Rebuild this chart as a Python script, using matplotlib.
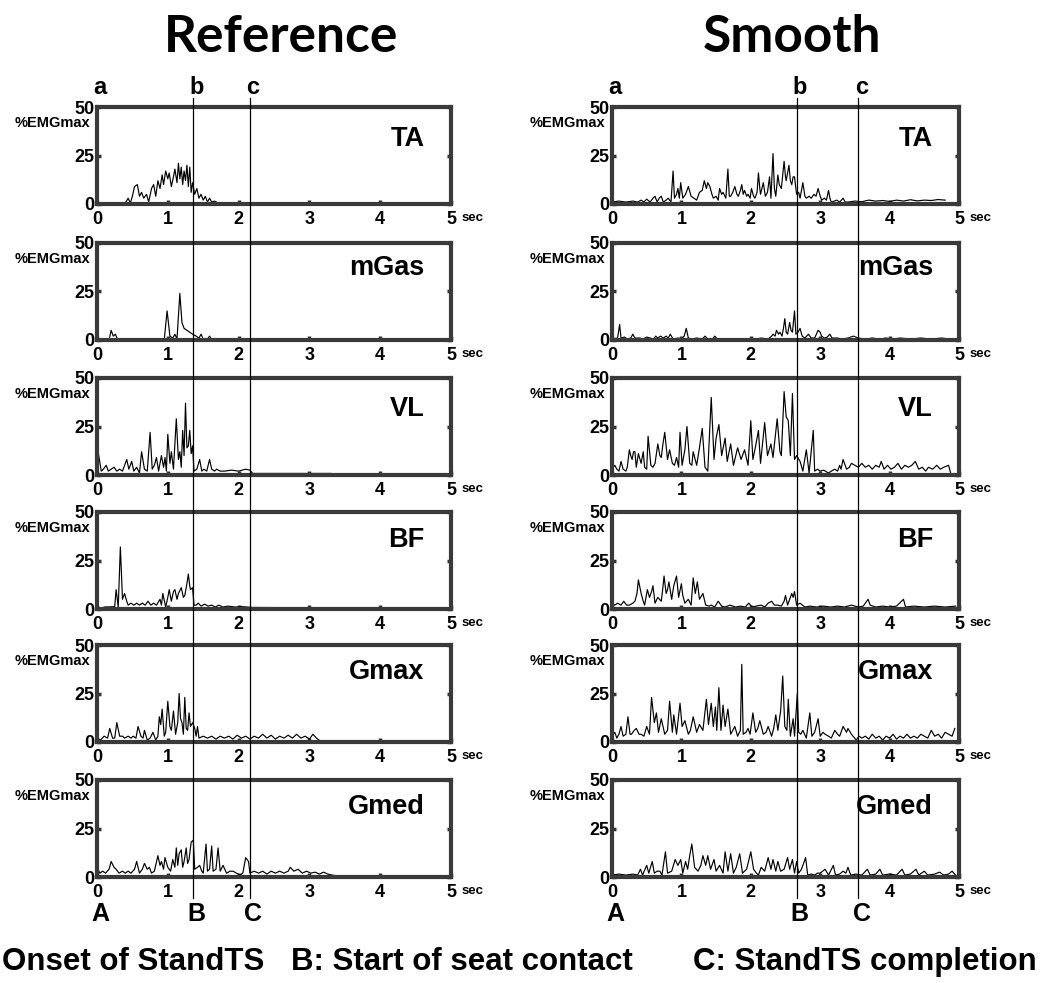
import matplotlib
matplotlib.use('Agg')
import matplotlib.pyplot as plt
from matplotlib.lines import Line2D

plt.rcParams['font.family'] = ['Liberation Sans', 'DejaVu Sans']
plt.rcParams['font.weight'] = 'bold'

# --- data: (time sec, %EMGmax) vertices ---
muscles = ['TA', 'mGas', 'VL', 'BF', 'Gmax', 'Gmed']

ref_ta = [(0,0.5),(0.40,0.5),(0.44,3),(0.47,0.5),(0.50,4),(0.53,9),(0.57,10),(0.60,4),(0.63,6),(0.66,3),(0.70,5),(0.73,1),(0.77,8),(0.80,10),(0.83,4),(0.86,12),(0.89,8),(0.92,15),(0.94,10),(0.97,17),(1.00,13),(1.02,16),(1.05,9),(1.08,14),(1.10,18),(1.13,11),(1.15,21),(1.17,13),(1.19,19),(1.21,10),(1.23,17),(1.25,12),(1.27,20),(1.29,9),(1.31,19),(1.33,6),(1.35,11),(1.38,5),(1.41,8),(1.44,3),(1.47,5),(1.50,2),(1.53,4),(1.56,1),(1.59,3),(1.62,1),(1.66,1.5),(1.70,0.7),(3.35,0.7)]
ref_mgas = [(0,0),(0.17,0),(0.20,5),(0.23,2),(0.26,3),(0.29,0.3),(0.95,0.3),(0.99,15),(1.03,2),(1.07,1),(1.10,3),(1.13,0.5),(1.17,24),(1.20,9),(1.23,6),(1.27,5),(1.31,4),(1.35,3),(1.40,2),(1.44,1),(1.47,3),(1.50,0.5),(1.56,0.5),(1.59,2),(1.62,0.3),(1.75,0.3)]
ref_vl = [(0,12),(0.02,11),(0.06,2),(0.09,3),(0.13,5),(0.16,2),(0.20,3),(0.24,4),(0.28,2),(0.32,3),(0.36,2),(0.39,5),(0.42,8),(0.45,3),(0.49,7),(0.52,2),(0.56,4),(0.60,1),(0.63,12),(0.67,3),(0.71,2),(0.75,22),(0.78,3),(0.81,5),(0.84,9),(0.87,2),(0.91,10),(0.94,4),(0.96,9),(0.98,2),(1.00,21),(1.03,6),(1.05,12),(1.08,3),(1.12,29),(1.15,8),(1.17,12),(1.19,4),(1.21,23),(1.23,10),(1.25,37),(1.27,14),(1.29,15),(1.31,23),(1.33,11),(1.35,15),(1.37,2),(1.41,3),(1.45,8),(1.48,2),(1.51,3),(1.55,2),(1.59,8),(1.62,3),(1.66,2),(1.69,3),(1.74,2),(1.80,2),(1.90,2.5),(2.00,2),(2.10,3),(2.16,2.5),(2.20,0.8),(3.30,0.8)]
ref_bf = [(0.1,1),(0.25,1.2),(0.27,10),(0.30,1),(0.33,32),(0.36,5),(0.39,8),(0.42,4),(0.44,2),(0.48,3),(0.52,2),(0.56,3),(0.60,2),(0.64,3),(0.68,2),(0.72,4),(0.76,2),(0.80,3),(0.84,2),(0.89,5),(0.91,2),(0.93,8),(0.97,1),(1.00,6),(1.02,10),(1.05,4),(1.08,9),(1.10,10),(1.13,5),(1.15,8),(1.19,11),(1.22,6),(1.24,7),(1.27,13),(1.29,18),(1.31,12),(1.32,10),(1.35,11),(1.37,2),(1.40,2),(1.43,3),(1.47,1.5),(1.52,2.5),(1.57,1.5),(1.62,2),(1.67,1),(1.72,2),(1.78,1),(1.85,1.5),(1.95,1),(2.05,1.2),(2.20,0.8),(3.30,0.6)]
ref_gmax = [(0,2),(0.05,1),(0.10,3),(0.15,2),(0.18,7),(0.22,2),(0.25,2),(0.28,10),(0.32,3),(0.36,3),(0.39,2),(0.44,3),(0.48,2),(0.51,3),(0.55,2),(0.58,8),(0.62,3),(0.65,2),(0.67,6),(0.71,1),(0.75,2),(0.79,5),(0.83,1),(0.86,3),(0.88,13),(0.90,9),(0.92,17),(0.95,3),(0.97,5),(1.00,21),(1.03,8),(1.05,6),(1.08,16),(1.11,4),(1.14,10),(1.16,25),(1.18,12),(1.20,10),(1.22,4),(1.24,23),(1.26,7),(1.28,6),(1.30,15),(1.32,8),(1.35,10),(1.38,7),(1.40,3),(1.42,8),(1.44,2),(1.50,3),(1.56,2),(1.62,3),(1.68,1.5),(1.74,3),(1.80,2),(1.86,3),(1.92,1.5),(1.98,3.5),(2.04,2),(2.10,3),(2.16,1.5),(2.22,3),(2.28,2),(2.34,4),(2.40,2),(2.46,3.5),(2.52,1.5),(2.58,3),(2.64,2),(2.70,3.5),(2.76,2),(2.82,4),(2.88,2),(2.94,3),(3.00,1.5),(3.05,4),(3.10,2),(3.15,0.6),(3.40,0.5)]
ref_gmed = [(0,5),(0.04,2),(0.08,3),(0.12,2),(0.17,4),(0.20,8),(0.24,5),(0.27,4),(0.31,2),(0.36,3),(0.40,2),(0.44,3),(0.48,2),(0.53,4),(0.56,8),(0.60,2),(0.64,4),(0.67,7),(0.71,4),(0.74,5),(0.77,2),(0.81,3),(0.86,11),(0.89,6),(0.91,8),(0.94,4),(0.96,10),(1.00,5),(1.04,3),(1.07,9),(1.10,5),(1.12,15),(1.14,6),(1.16,12),(1.19,14),(1.21,5),(1.23,8),(1.26,15),(1.28,7),(1.30,9),(1.33,18),(1.36,19),(1.38,4),(1.42,5),(1.45,6),(1.48,3),(1.50,2),(1.54,17),(1.56,3),(1.59,4),(1.62,16),(1.64,3),(1.68,4),(1.71,15),(1.74,3),(1.78,6),(1.83,2),(1.88,3),(1.92,3),(1.97,2),(2.02,1),(2.06,2),(2.10,10),(2.14,8),(2.16,2),(2.22,3),(2.28,2),(2.34,3),(2.40,1.5),(2.46,3),(2.52,2),(2.58,3),(2.64,2),(2.70,3),(2.73,5),(2.78,3),(2.84,4),(2.90,2),(2.96,3),(3.02,2),(3.08,2.5),(3.14,1.5),(3.20,2.5),(3.26,1.5),(3.32,1),(3.40,0.5)]

smo_ta = [(0,1),(0.10,1.5),(0.20,1),(0.30,1.5),(0.37,1),(0.42,2),(0.46,1),(0.50,2.5),(0.55,1),(0.59,3),(0.62,4),(0.65,1),(0.68,3),(0.71,4),(0.74,1),(0.78,2),(0.81,3),(0.85,1),(0.88,17),(0.90,3),(0.93,5),(0.95,8),(0.97,3),(0.99,11),(1.02,3),(1.06,5),(1.10,9),(1.14,4),(1.18,3),(1.22,2),(1.26,6),(1.30,7),(1.33,12),(1.36,8),(1.38,11),(1.41,9),(1.44,5),(1.46,3),(1.50,4),(1.53,2),(1.55,8),(1.58,5),(1.60,6),(1.64,3),(1.67,18),(1.69,4),(1.71,4),(1.74,6),(1.77,9),(1.80,5),(1.82,4),(1.85,7),(1.87,10),(1.89,5),(1.91,7),(1.94,4),(1.96,5),(1.99,3),(2.01,8),(2.04,4),(2.06,3),(2.09,6),(2.11,16),(2.13,8),(2.14,5),(2.18,11),(2.21,4),(2.24,6),(2.27,14),(2.29,3),(2.32,26),(2.34,8),(2.36,4),(2.39,15),(2.41,10),(2.44,8),(2.48,22),(2.50,14),(2.51,12),(2.55,20),(2.57,12),(2.59,10),(2.61,14),(2.63,14),(2.66,5),(2.69,6),(2.71,3),(2.75,11),(2.78,4),(2.80,3),(2.84,4),(2.87,3),(2.91,5),(2.94,4),(2.97,8),(3.00,4),(3.02,2),(3.06,3),(3.09,2),(3.12,7),(3.14,3),(3.16,1),(3.20,1.5),(3.24,2),(3.28,1),(3.33,3),(3.36,1),(3.40,1),(3.50,1.5),(3.60,1.2),(3.70,2),(3.80,1.5),(3.90,1.8),(4.00,1.3),(4.10,2),(4.20,1.5),(4.30,2.2),(4.40,1.6),(4.50,2),(4.60,1.8),(4.70,2.3),(4.80,2)]
smo_mgas = [(0,0.5),(0.08,1),(0.11,8),(0.13,1),(0.18,1.5),(0.22,0.5),(0.27,1),(0.30,3),(0.33,1),(0.40,1),(0.45,0.5),(0.50,1.5),(0.55,1),(0.60,0.5),(0.63,2),(0.66,1),(0.70,2),(0.74,1),(0.78,2),(0.81,1),(0.84,3),(0.88,0.5),(0.95,1),(1.00,0.5),(1.04,2),(1.07,6),(1.10,1),(1.15,0.5),(1.22,1),(1.30,0.5),(1.34,2),(1.38,0.5),(1.45,0.5),(1.48,2),(1.52,0.5),(1.70,0.3),(1.90,0.5),(2.05,0.3),(2.15,1),(2.25,0.5),(2.30,2),(2.32,3),(2.35,2),(2.37,5),(2.40,3),(2.42,4),(2.45,2),(2.47,6),(2.49,11),(2.51,4),(2.53,3),(2.56,9),(2.58,5),(2.60,4),(2.63,15),(2.65,3),(2.68,4),(2.71,6),(2.74,2),(2.78,1),(2.83,3),(2.87,1),(2.92,1),(2.97,5),(3.00,4),(3.02,2),(3.06,1),(3.10,1.5),(3.14,3),(3.17,1),(3.25,1),(3.32,0.5),(3.40,1),(3.48,2),(3.55,1),(3.65,0.5),(3.75,1),(3.85,0.5),(3.95,1),(4.05,0.5),(4.15,1),(4.30,0.5),(4.45,1),(4.60,0.5),(4.75,1),(4.85,0.5)]
smo_vl = [(0,3),(0.04,5),(0.07,3),(0.10,2),(0.13,7),(0.16,3),(0.20,2),(0.22,4),(0.25,13),(0.27,10),(0.29,8),(0.31,12),(0.33,12),(0.35,4),(0.38,11),(0.42,6),(0.45,12),(0.47,4),(0.50,3),(0.52,20),(0.56,5),(0.59,4),(0.62,6),(0.66,16),(0.69,10),(0.71,9),(0.73,15),(0.76,22),(0.80,8),(0.83,13),(0.87,6),(0.90,5),(0.93,9),(0.96,4),(0.98,22),(1.01,5),(1.05,13),(1.08,25),(1.12,6),(1.15,5),(1.17,12),(1.22,5),(1.26,14),(1.30,24),(1.34,4),(1.38,2),(1.43,40),(1.47,8),(1.50,19),(1.54,26),(1.58,10),(1.63,19),(1.66,7),(1.71,16),(1.75,5),(1.81,14),(1.86,8),(1.91,13),(1.96,5),(2.00,28),(2.03,8),(2.07,15),(2.11,23),(2.14,6),(2.20,27),(2.24,10),(2.29,16),(2.32,9),(2.38,29),(2.42,12),(2.44,10),(2.48,43),(2.51,30),(2.54,28),(2.57,10),(2.60,42),(2.63,8),(2.66,10),(2.71,7),(2.75,2),(2.80,13),(2.84,1),(2.90,23),(2.92,2),(2.96,3),(3.00,2),(3.05,2.5),(3.12,1),(3.16,2),(3.21,3),(3.25,2),(3.28,5),(3.30,3),(3.33,8),(3.38,3),(3.42,4),(3.45,6),(3.50,5),(3.55,4),(3.60,6),(3.65,4),(3.70,5),(3.75,3),(3.80,5),(3.85,4),(3.88,7),(3.92,3),(3.97,5),(4.02,3),(4.07,4),(4.12,6),(4.17,3),(4.22,5),(4.27,4),(4.32,5),(4.37,7),(4.42,3),(4.47,4),(4.52,2),(4.56,4),(4.62,3),(4.68,5),(4.73,3),(4.78,4),(4.85,5),(4.88,1)]
smo_bf = [(0,3),(0.04,2),(0.08,3),(0.13,2),(0.17,4),(0.21,2),(0.25,2),(0.30,3),(0.33,4),(0.36,8),(0.38,15),(0.42,8),(0.45,4),(0.47,2),(0.51,10),(0.54,6),(0.57,9),(0.59,12),(0.62,3),(0.66,6),(0.71,4),(0.73,10),(0.75,17),(0.78,8),(0.80,10),(0.82,14),(0.86,5),(0.89,12),(0.93,17),(0.96,6),(1.00,13),(1.02,7),(1.05,3),(1.10,5),(1.14,2),(1.17,16),(1.20,8),(1.23,14),(1.26,5),(1.31,8),(1.35,2),(1.40,1.5),(1.43,2),(1.48,1),(1.53,4),(1.58,1.5),(1.63,1),(1.70,2),(1.78,1),(1.85,1.5),(1.92,1),(1.97,3),(2.02,1),(2.08,1.5),(2.15,2),(2.20,1),(2.25,3),(2.30,4),(2.34,2),(2.39,2),(2.44,1.5),(2.48,4),(2.50,7),(2.53,2),(2.56,5),(2.59,8),(2.61,6),(2.63,9),(2.66,2),(2.71,3),(2.78,1),(2.85,1.5),(2.95,1),(3.05,1.5),(3.15,1),(3.25,1.5),(3.35,1),(3.45,2),(3.55,1),(3.62,1.5),(3.69,5),(3.72,2),(3.80,1),(3.90,1.5),(4.00,1),(4.10,1.5),(4.20,5),(4.23,1),(4.35,1.5),(4.50,1),(4.65,1.5),(4.80,1),(4.95,1.5)]
smo_gmax = [(0,3),(0.04,5),(0.07,2),(0.10,4),(0.13,8),(0.16,3),(0.20,4),(0.23,13),(0.26,4),(0.28,4),(0.32,6),(0.35,7),(0.39,4),(0.42,4),(0.46,3),(0.50,8),(0.54,4),(0.57,23),(0.61,10),(0.64,15),(0.67,5),(0.71,12),(0.76,4),(0.80,6),(0.83,21),(0.87,5),(0.89,14),(0.93,4),(0.98,20),(1.01,8),(1.05,11),(1.10,4),(1.13,6),(1.17,13),(1.22,5),(1.26,9),(1.31,6),(1.36,22),(1.39,9),(1.43,20),(1.46,8),(1.49,18),(1.51,6),(1.54,28),(1.57,6),(1.60,19),(1.63,8),(1.67,17),(1.71,4),(1.74,6),(1.77,8),(1.81,3),(1.85,6),(1.87,40),(1.89,4),(1.93,5),(1.96,7),(1.99,4),(2.03,15),(2.07,5),(2.10,7),(2.13,11),(2.18,4),(2.22,5),(2.25,8),(2.30,3),(2.33,7),(2.36,14),(2.39,6),(2.43,16),(2.46,34),(2.49,8),(2.52,6),(2.54,22),(2.57,3),(2.61,12),(2.63,3),(2.67,25),(2.69,5),(2.72,4),(2.75,6),(2.80,2),(2.85,15),(2.88,3),(2.92,5),(2.97,12),(3.00,3),(3.04,5),(3.07,4),(3.12,3),(3.16,2),(3.21,6),(3.25,4),(3.28,3),(3.33,8),(3.38,5),(3.40,7),(3.45,4),(3.52,1),(3.56,3),(3.60,2),(3.65,3),(3.70,1.5),(3.75,4),(3.80,2),(3.85,3),(3.90,1),(3.95,3),(4.00,2),(4.05,4),(4.10,1.5),(4.15,3),(4.20,2),(4.25,4),(4.30,2),(4.35,3),(4.40,2),(4.45,4),(4.50,3),(4.55,2),(4.60,6),(4.65,3),(4.70,4),(4.75,2),(4.80,5),(4.85,4),(4.90,3),(4.94,7)]
smo_gmed = [(0,1),(0.10,1.5),(0.20,1),(0.30,1.5),(0.37,1),(0.41,4),(0.44,1),(0.50,6),(0.53,2),(0.58,8),(0.61,2),(0.65,3),(0.69,3),(0.72,1),(0.77,13),(0.80,2),(0.86,3),(0.91,9),(0.95,6),(0.99,9),(1.02,2),(1.06,8),(1.09,4),(1.12,11),(1.15,17),(1.19,5),(1.24,3),(1.28,6),(1.31,11),(1.35,6),(1.38,11),(1.42,4),(1.47,9),(1.50,3),(1.55,6),(1.60,2),(1.63,13),(1.67,3),(1.71,12),(1.75,2),(1.79,5),(1.84,12),(1.88,2),(1.94,4),(2.00,13),(2.04,4),(2.08,2),(2.11,1),(2.15,5),(2.20,3),(2.25,10),(2.29,4),(2.32,9),(2.36,3),(2.39,8),(2.43,3),(2.48,4),(2.53,10),(2.56,4),(2.60,9),(2.63,2),(2.66,8),(2.69,2),(2.73,4),(2.79,10),(2.82,1),(2.87,1.5),(2.92,1),(2.96,2),(3.00,2),(3.07,4),(3.12,1),(3.19,6),(3.22,1),(3.28,1.5),(3.33,3),(3.37,2),(3.40,5),(3.44,1),(3.52,1.5),(3.60,1),(3.68,4),(3.72,1),(3.80,1.5),(3.86,4),(3.90,1),(4.00,1.5),(4.10,1),(4.18,4),(4.22,1),(4.30,1.5),(4.38,4),(4.42,1),(4.50,3),(4.55,1),(4.65,1.5),(4.72,2.5),(4.78,1),(4.85,1.5),(4.90,3),(4.95,1)]

ref_events = [1.36, 2.16]   # b, c
smo_events = [2.66, 3.55]
x_ticks = [0, 1, 2, 3, 4, 5]
y_ticks = [0, 25, 50]
captions = ['Onset of StandTS', 'B: Start of seat contact', 'C: StandTS completion']

W, H = 1045, 983
fig = plt.figure(figsize=(W / 100, H / 100), dpi=100)

panel_tops = [107, 243, 378, 512, 645, 780]
panel_h = 97
columns = [
    ('Reference', 97, 354, [ref_ta, ref_mgas, ref_vl, ref_bf, ref_gmax, ref_gmed], ref_events),
    ('Smooth', 612, 347, [smo_ta, smo_mgas, smo_vl, smo_bf, smo_gmax, smo_gmed], smo_events),
]
name_y = [0.67, 0.74, 0.68, 0.71, 0.72, 0.72]

for title, left, width, traces, events in columns:
    axes = []
    for i, (name, tr) in enumerate(zip(muscles, traces)):
        top = panel_tops[i]
        ax = fig.add_axes([left / W, 1 - (top + panel_h) / H, width / W, panel_h / H])
        t = [p[0] for p in tr]
        v = [p[1] for p in tr]
        ax.plot(t, v, color='black', lw=0.85)
        ax.set_xlim(0, 5)
        ax.set_ylim(0, 50)
        ax.set_xticks(x_ticks)
        ax.set_xticklabels([str(x) for x in x_ticks])
        ax.set_yticks(y_ticks)
        ax.set_yticklabels([str(y) for y in y_ticks])
        ax.tick_params(direction='in', length=3, width=2.5, color='#333333',
                       right=True, labelsize=13, pad=2)
        ax.tick_params(axis='x', pad=5)
        for lab in ax.get_xticklabels() + ax.get_yticklabels():
            lab.set_fontweight('bold')
        for s in ax.spines.values():
            s.set_linewidth(3)
            s.set_color('#3a3a3a')
        ax.text(1.03, -0.145, 'sec', transform=ax.transAxes, fontsize=9.5,
                fontweight='bold', ha='left', va='center')
        ax.text(0.925, name_y[i], name, transform=ax.transAxes, fontsize=19.5,
                fontweight='bold', ha='right', va='center')
        ax.text(-0.02, 0.84, '%EMGmax', transform=ax.transAxes, fontsize=10.5,
                fontweight='bold', ha='right', va='center')
        axes.append(ax)

    # event lines across all panels
    inv = fig.transFigure.inverted()
    y_top = 1 - 98 / H
    y_bot = 1 - 898 / H
    for ev in events:
        xf = inv.transform(axes[0].transData.transform((ev, 0)))[0]
        fig.add_artist(Line2D([xf, xf], [y_bot, y_top], color='black', lw=0.9,
                              transform=fig.transFigure))
    for lab_low, lab_up, ev in zip(['a', 'b', 'c'], ['A', 'B', 'C'], [0] + events):
        xf = inv.transform(axes[0].transData.transform((ev, 0)))[0]
        fig.text(xf + 0.003, 1 - 88 / H, lab_low, fontsize=17, fontweight='bold',
                 ha='center', va='center')
        fig.text(xf + 0.003, 1 - 914 / H, lab_up, fontsize=18, fontweight='bold',
                 ha='center', va='center')

    xc = (left + width * 0.52) / W
    fig.text(xc, 1 - 38 / H, title, fontsize=37, fontweight='bold',
             family=['Lato', 'DejaVu Sans'], ha='center', va='center')

# caption line at the bottom
cap_x = [2, 291, 693]
for cx, txt in zip(cap_x, captions):
    fig.text(cx / W, 1 - 962 / H, txt, fontsize=22.5, fontweight='bold',
             ha='left', va='center')

fig.savefig('out.png', dpi=100)
